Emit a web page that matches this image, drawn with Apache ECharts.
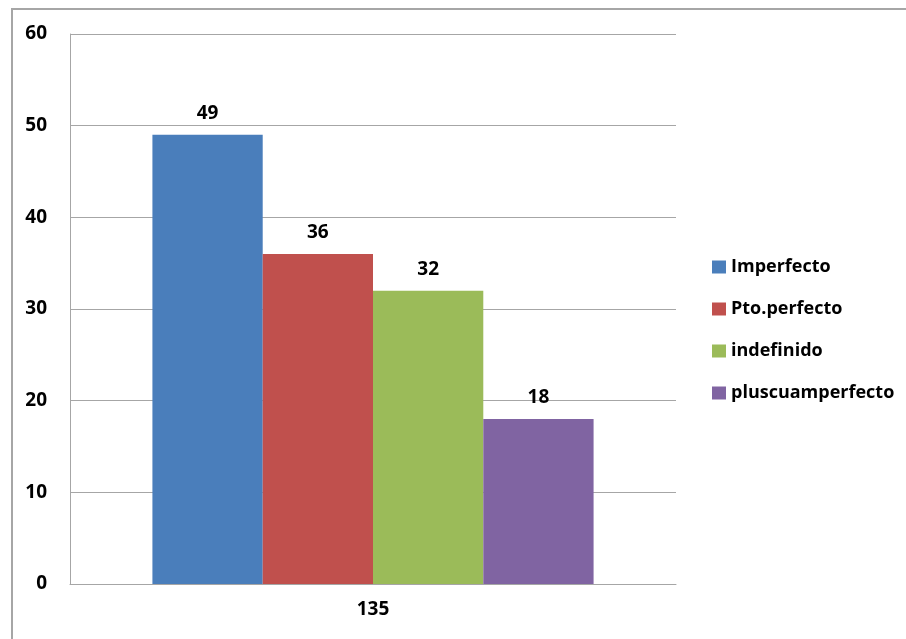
<!DOCTYPE html>
<html>
<head>
<meta charset="utf-8">
<style>
  html, body { margin: 0; padding: 0; background: #fff; }
  #chart { width: 906px; height: 639px; }
</style>
<script src="https://cdn.jsdelivr.net/npm/echarts@6/dist/echarts.min.js"></script>
</head>
<body>
<div id="chart"></div>
<script>
// Tense usage counts for the single group "135"
const categories = ['135'];
const seriesNames = ['Imperfecto', 'Pto.perfecto', 'indefinido', 'pluscuamperfecto'];
const seriesValues = [[49], [36], [32], [18]];
const seriesColors = ['#4a7ebb', '#c0504d', '#9bbb59', '#8064a2'];
const yTicks = [0, 10, 20, 30, 40, 50, 60];

const FONT = '"Open Sans", "Liberation Sans", sans-serif';

const chart = echarts.init(document.getElementById('chart'));

const series = seriesNames.map((name, i) => ({
  name: name,
  type: 'bar',
  data: seriesValues[i],
  barGap: '0%',
  barCategoryGap: '27.2%',
  itemStyle: { color: seriesColors[i] },
  label: {
    show: true,
    position: 'top',
    distance: 12,
    color: '#000',
    fontFamily: FONT,
    fontWeight: 'bold',
    fontSize: 19
  }
}));

chart.setOption({
  animation: false,
  backgroundColor: '#fff',
  graphic: [{
    type: 'rect',
    shape: { x: 12, y: 9, width: 1000, height: 1000 },
    style: { fill: 'none', stroke: '#a6a6a6', lineWidth: 2 },
    silent: true
  }],
  grid: { left: 70, top: 34, right: 230, bottom: 55, containLabel: false },
  legend: {
    orient: 'vertical',
    left: 707,
    top: 252,
    itemWidth: 14,
    itemHeight: 13,
    itemGap: 22,
    icon: 'rect',
    textStyle: { fontFamily: FONT, fontSize: 18, fontWeight: 'bold', color: '#000', lineHeight: 20 },
    data: seriesNames
  },
  xAxis: {
    type: 'category',
    data: categories,
    axisLine: { lineStyle: { color: '#a6a6a6', width: 1 } },
    axisTick: { show: false },
    axisLabel: { color: '#000', fontFamily: FONT, fontWeight: 'bold', fontSize: 19, margin: 16 }
  },
  yAxis: {
    type: 'value',
    min: yTicks[0],
    max: yTicks[yTicks.length - 1],
    interval: 10,
    axisLine: { show: true, lineStyle: { color: '#a6a6a6', width: 1 } },
    axisTick: { show: false },
    splitLine: { lineStyle: { color: '#a6a6a6', width: 1 } },
    axisLabel: { color: '#000', fontFamily: FONT, fontWeight: 'bold', fontSize: 19, margin: 23 }
  },
  series: series
});
</script>
</body>
</html>
